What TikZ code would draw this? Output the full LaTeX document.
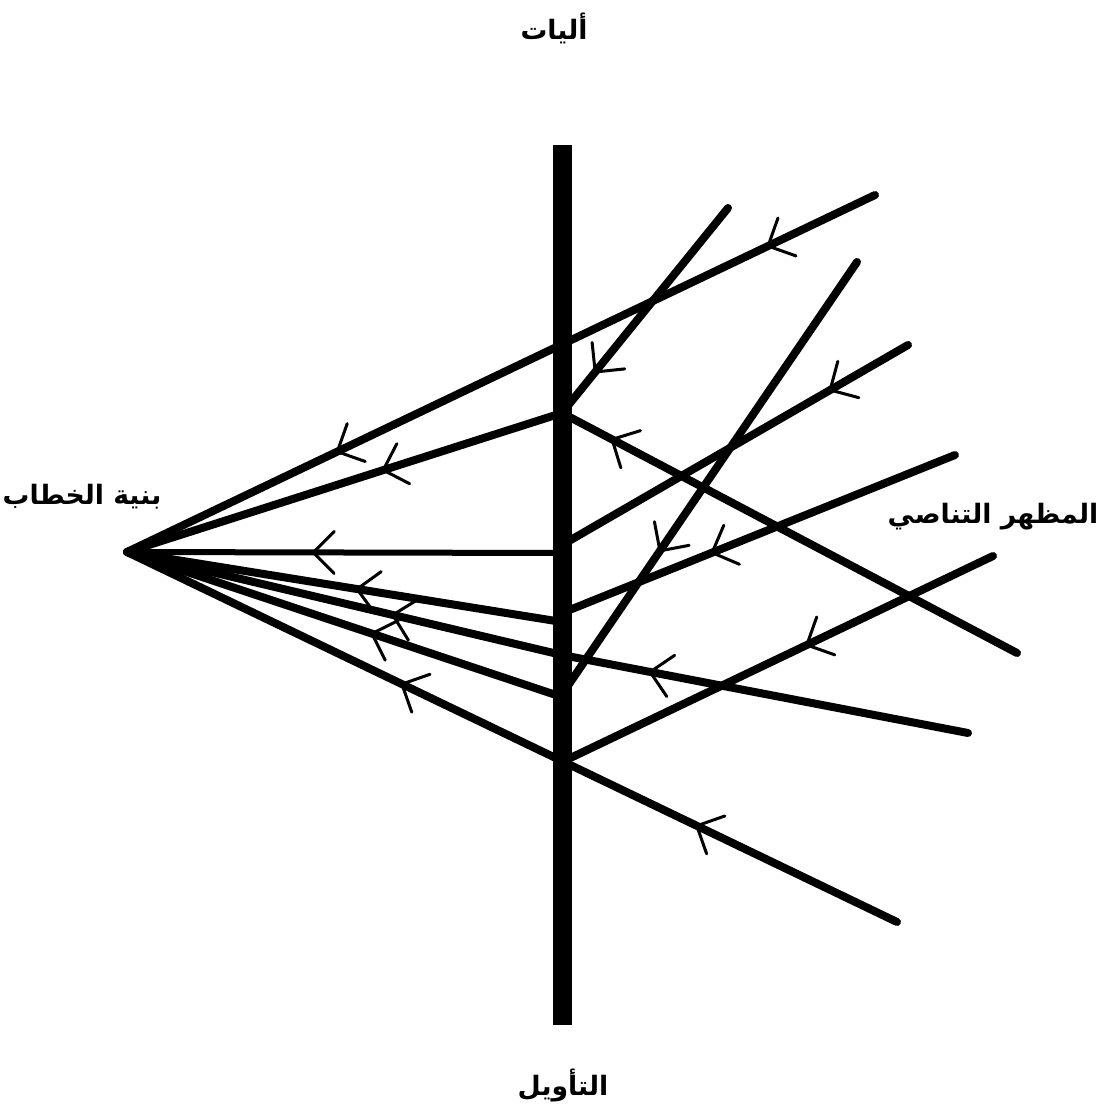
\documentclass[tikz,border=0pt]{standalone}
\usepackage{fontspec}
\TeXXeTstate=1
\newfontfamily\arabicfont[Script=Arabic]{DejaVu Sans}
\usetikzlibrary{decorations.markings}
\newcommand\barbtip{\draw[line width=0.075cm, line cap=round, line join=miter] (-21,-21) -- (0,0) -- (-21,21);}
\begin{document}
\begin{tikzpicture}[x=0.025cm,y=-0.025cm,
  ray/.style={line width=0.2cm, line cap=round, line join=round},
  thinray/.style={line width=0.15cm, line cap=round},
  tick/.style={postaction={decorate}, decoration={markings, mark=at position #1 with {\barbtip}}},
  ticktwo/.style 2 args={postaction={decorate}, decoration={markings, mark=at position #1 with {\barbtip}, mark=at position #2 with {\barbtip}}},
  bar/.style={line width=0.475cm},
  lbl/.style={font=\arabicfont\bfseries\fontsize{19}{23}\selectfont, inner sep=0pt}]
\useasboundingbox[fill=white] (0,0) rectangle (1112,1109);

% labels
\node[lbl] (top) at (554,28) {\beginR أليات\endR};
\node[lbl] (left) at (82,497) {\beginR بنية الخطاب\endR};
\node[lbl] (right) at (993,517) {\beginR المظهر التناصي\endR};
\node[lbl] (bottom) at (563,1085) {\beginR التأويل\endR};

% points
\coordinate (P) at (127,552);
\coordinate (A1) at (875,195);
\coordinate (B1) at (562,413);
\coordinate (C1) at (728,208);
\coordinate (D1) at (1017,653);
\coordinate (B2) at (562,553);
\coordinate (B2r) at (562,545);
\coordinate (F1) at (908,345);
\coordinate (B3) at (562,622);
\coordinate (B3r) at (562,613);
\coordinate (K1) at (955,455);
\coordinate (B4) at (562,655);
\coordinate (H1) at (968,733);
\coordinate (B5) at (562,697);
\coordinate (B5r) at (565,690);
\coordinate (J1) at (857,262);
\coordinate (B6) at (562,762);
\coordinate (L1) at (897,922);
\coordinate (M1) at (993,556);
\coordinate (Btop) at (562,145);
\coordinate (Bbot) at (562,1025);

% rays (drawn toward the left so ticks point left)
\draw[ray, ticktwo={0.143}{0.719}] (A1) -- (P);
\draw[ray, tick=0.411] (B1) -- (P);
\draw[ray, tick=0.80] (C1) -- (B1);
\draw[ray, tick=0.89] (D1) -- (B1);
\draw[thinray, tick=0.572] (B2) -- (P);
\draw[ray, tick=0.225] (F1) -- (B2r);
\draw[ray, tick=0.471] (B3) -- (P);
\draw[ray, tick=0.618] (K1) -- (B3r);
\draw[ray, tick=0.389] (B4) -- (P);
\draw[ray, tick=0.783] (H1) -- (B4);
\draw[ray, tick=0.437] (B5) -- (P);
\draw[ray, tick=0.675] (J1) -- (B5r);
\draw[ray, ticktwo={0.26}{0.643}] (L1) -- (P);
\draw[ray, tick=0.432] (M1) -- (B6);

% central bar
\draw[bar] (Btop) -- (Bbot);
\end{tikzpicture}
\end{document}
